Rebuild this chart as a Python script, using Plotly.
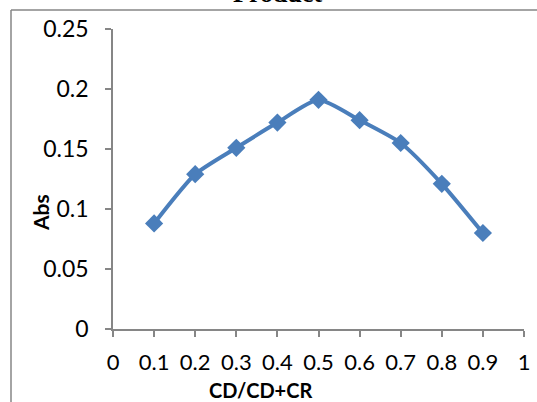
import plotly.graph_objects as go

x_vals = [0.1, 0.2, 0.3, 0.4, 0.5, 0.6, 0.7, 0.8, 0.9]
abs_vals = [0.088, 0.129, 0.151, 0.172, 0.191, 0.174, 0.155, 0.121, 0.080]
x_ticks = [0, 0.1, 0.2, 0.3, 0.4, 0.5, 0.6, 0.7, 0.8, 0.9, 1]
x_tick_text = ["0", "0.1", "0.2", "0.3", "0.4", "0.5", "0.6", "0.7", "0.8", "0.9", "1"]
y_ticks = [0, 0.05, 0.1, 0.15, 0.2, 0.25]
y_tick_text = ["0", "0.05", "0.1", "0.15", "0.2", "0.25"]

W, H = 537, 402
L, R, T, B = 113, 13, 29, 73
pw, ph = W - L - R, H - T - B

def px(xp):
    return (xp - L) / pw

def py(yp):
    return (H - B - yp) / ph

color = "#4A7EBB"
axis_col = "#868686"
font_fam = "Lato, 'Open Sans', sans-serif"

fig = go.Figure()
fig.add_trace(go.Scatter(
    x=x_vals, y=abs_vals, mode="lines+markers",
    line=dict(color=color, width=4, shape="spline", smoothing=0.6),
    marker=dict(symbol="diamond", size=14, color=color),
    showlegend=False, hoverinfo="skip", cliponaxis=False))

fig.update_layout(
    width=W, height=H,
    margin=dict(l=L, r=R, t=T, b=B, autoexpand=False),
    paper_bgcolor="white", plot_bgcolor="white",
    font=dict(family=font_fam, size=22, color="black"),
    xaxis=dict(range=[0, 1], tickvals=x_ticks, ticktext=x_tick_text,
               showgrid=False, zeroline=False, showline=True,
               linecolor=axis_col, linewidth=1.5, ticks="outside",
               tickcolor=axis_col, ticklen=6, tickwidth=1.5,
               tickfont=dict(size=22), ticklabelstandoff=7,
               automargin=False, fixedrange=True),
    yaxis=dict(range=[0, 0.25], tickvals=y_ticks, ticktext=y_tick_text,
               showgrid=False, zeroline=False, showline=True,
               linecolor=axis_col, linewidth=1.5, ticks="outside",
               tickcolor=axis_col, ticklen=6, tickwidth=1.5,
               tickfont=dict(size=23), ticklabelstandoff=12,
               automargin=False, fixedrange=True),
    shapes=[
        dict(type="line", xref="paper", yref="paper",
             x0=px(11), x1=px(540), y0=py(10), y1=py(10),
             line=dict(color=axis_col, width=1.5)),
        dict(type="line", xref="paper", yref="paper",
             x0=px(11), x1=px(11), y0=py(10), y1=py(405),
             line=dict(color=axis_col, width=1.5)),
    ],
    annotations=[
        dict(text="<b>Product</b>", xref="paper", yref="paper",
             x=px(277), y=py(10), xanchor="center", yanchor="bottom",
             showarrow=False,
             font=dict(family="'Liberation Serif', serif", size=26, color="black")),
        dict(text="<b>Abs</b>", xref="paper", yref="paper",
             x=px(40), y=py(213), xanchor="center", yanchor="middle",
             textangle=-90, showarrow=False,
             font=dict(family=font_fam, size=21, color="black")),
        dict(text="<b>CD/CD+CR</b>", xref="paper", yref="paper",
             x=px(260), y=py(390), xanchor="center", yanchor="middle",
             showarrow=False,
             font=dict(family=font_fam, size=20, color="black")),
    ],
)

fig.write_html("out.html")
